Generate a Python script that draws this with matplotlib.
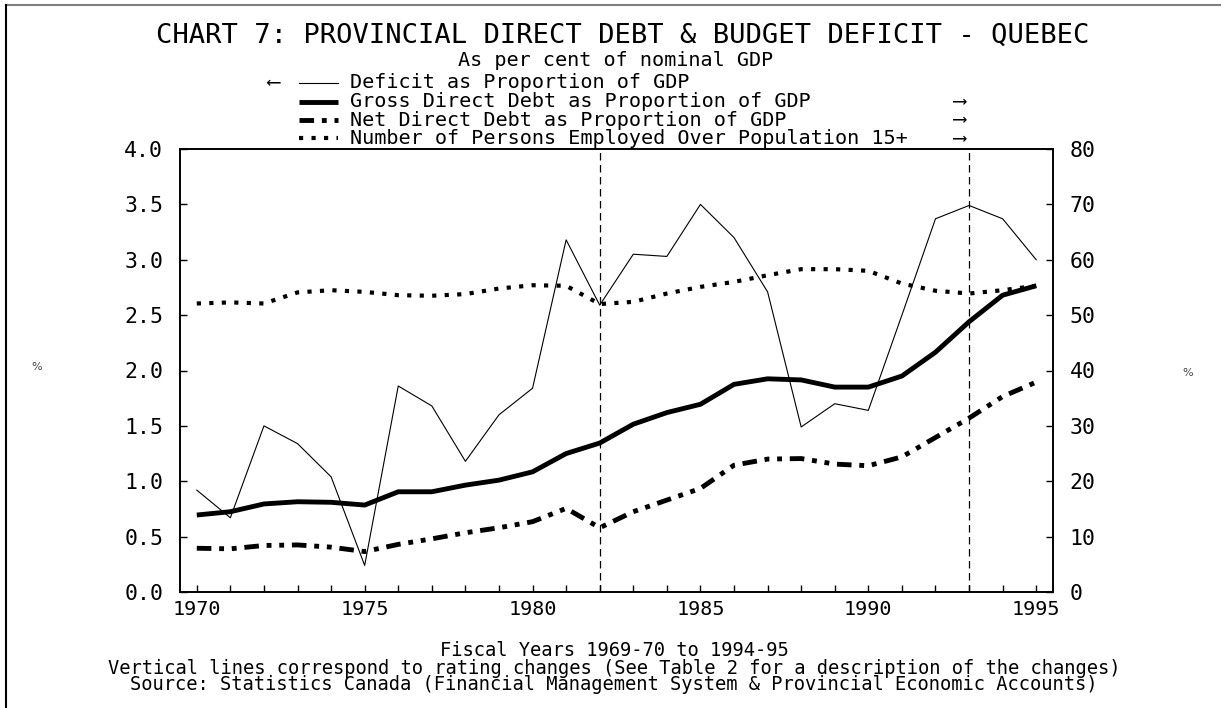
import matplotlib.pyplot as plt
from matplotlib.lines import Line2D
from matplotlib.ticker import MultipleLocator, FuncFormatter

# Data (fiscal years 1969-70 .. 1994-95, plotted at 1970..1995)
years = list(range(1970, 1996))
deficit = [0.92, 0.67, 1.50, 1.34, 1.04, 0.24, 1.86, 1.68, 1.18, 1.60, 1.84, 3.18, 2.59,
           3.05, 3.03, 3.50, 3.20, 2.71, 1.49, 1.70, 1.64, 2.50, 3.37, 3.49, 3.37, 3.00]
gross_debt = [13.9, 14.5, 15.9, 16.3, 16.2, 15.7, 18.1, 18.1, 19.3, 20.2, 21.7, 25.0, 26.9,
              30.3, 32.4, 33.9, 37.5, 38.5, 38.3, 37.0, 37.0, 39.0, 43.3, 48.8, 53.6, 55.3]
net_debt = [7.9, 7.8, 8.4, 8.5, 8.1, 7.3, 8.6, 9.6, 10.7, 11.6, 12.7, 15.1, 11.6,
            14.5, 16.6, 18.7, 22.9, 24.0, 24.1, 23.1, 22.8, 24.4, 27.9, 31.4, 35.3, 37.9]
employment = [52.1, 52.3, 52.1, 54.1, 54.5, 54.2, 53.6, 53.5, 53.8, 54.8, 55.4, 55.3, 52.0,
              52.4, 53.9, 55.1, 56.0, 57.2, 58.3, 58.3, 58.0, 55.7, 54.4, 53.9, 54.5, 55.3]
rating_changes = [1982, 1993]

labels = ['Deficit as Proportion of GDP',
          'Gross Direct Debt as Proportion of GDP',
          'Net Direct Debt as Proportion of GDP',
          'Number of Persons Employed Over Population 15+']
footer = ['Fiscal Years 1969-70 to 1994-95',
          'Vertical lines correspond to rating changes (See Table 2 for a description of the changes)',
          'Source: Statistics Canada (Financial Management System & Provincial Economic Accounts)']

MONO = ['DejaVu Sans Mono', 'DejaVu Sans']
W, H = 1221, 708

fig = plt.figure(figsize=(W / 100, H / 100), dpi=100)
ax = fig.add_axes([180 / W, 1 - 592 / H, 873 / W, 443 / H])
ax2 = ax.twinx()

net_dash = (3, 1.6, 1, 1.6, 1, 1.6)
emp_dash = (1, 2)

# left axis: deficit
ax.plot(years, deficit, color='black', lw=0.8)
for yr in rating_changes:
    ax.axvline(yr, color='black', lw=0.9, dashes=(6, 3.6))

# right axis: debt and employment
ax2.plot(years, gross_debt, color='black', lw=3.5, solid_capstyle='butt')
ax2.plot(years, net_debt, color='black', lw=3.5, dashes=net_dash, dash_capstyle='butt')
ax2.plot(years, employment, color='black', lw=3.0, dashes=emp_dash, dash_capstyle='butt')

ax.set_xlim(1969.5, 1995.5)
ax.set_ylim(0, 4)
ax2.set_ylim(0, 80)

ax.xaxis.set_major_locator(MultipleLocator(5))
ax.xaxis.set_minor_locator(MultipleLocator(1))
ax.yaxis.set_major_locator(MultipleLocator(0.5))
ax.yaxis.set_major_formatter(FuncFormatter(lambda v, p: f'{v:.1f}'))
ax2.yaxis.set_major_locator(MultipleLocator(10))

ax.tick_params(axis='x', which='both', direction='in', length=5, width=1, top=False, pad=6)
ax.tick_params(axis='y', direction='in', length=5, width=1, pad=12)
ax2.tick_params(axis='y', direction='in', length=5, width=1, pad=12)
for lab in ax.get_xticklabels():
    lab.set_family(MONO)
    lab.set_fontsize(14.5)
for lab in ax.get_yticklabels() + ax2.get_yticklabels():
    lab.set_family(MONO)
    lab.set_fontsize(15.5)
for a in (ax, ax2):
    for s in a.spines.values():
        s.set_linewidth(1.2)

# % labels
fig.text(37 / W, 1 - 367 / H, '%', fontsize=8, color='#444444', ha='center', va='center')
fig.text(1188 / W, 1 - 373 / H, '%', fontsize=8, color='#444444', ha='center', va='center')

# titles
fig.text(623 / W, 1 - 36 / H, 'CHART 7: PROVINCIAL DIRECT DEBT & BUDGET DEFICIT - QUEBEC',
         family=MONO, fontsize=19.5, ha='center', va='center')
fig.text(616 / W, 1 - 60 / H, 'As per cent of nominal GDP',
         family=MONO, fontsize=14.5, ha='center', va='center')

# hand-drawn legend like the original
rows = [83, 101.7, 120, 138.3]
styles = [dict(lw=0.8), dict(lw=3.5, solid_capstyle='butt'),
          dict(lw=3.5, dashes=net_dash, dash_capstyle='butt'),
          dict(lw=3.0, dashes=emp_dash, dash_capstyle='butt')]
for row, lab, st in zip(rows, labels, styles):
    yy = 1 - row / H
    fig.add_artist(Line2D([299 / W, 338 / W], [yy, yy], color='black', **st))
    fig.text(350 / W, yy, lab, family=MONO, fontsize=14.5, ha='left', va='center')
fig.text(274 / W, 1 - rows[0] / H, '\u27f5', family=MONO, fontsize=14, ha='center', va='center')
for row in rows[1:]:
    fig.text(960 / W, 1 - row / H, '\u27f6', family=MONO, fontsize=14, ha='center', va='center')

# footer
for row, txt in zip([651, 668, 685], footer):
    fig.text(614 / W, 1 - row / H, txt, family=MONO, fontsize=13.5, ha='center', va='center')

# page border (top and left)
fig.add_artist(Line2D([6 / W, 1], [1 - 5 / H, 1 - 5 / H], color='#808080', lw=1.5))
fig.add_artist(Line2D([6 / W, 6 / W], [0, 1 - 5 / H], color='black', lw=1.5))

fig.savefig('out.png', dpi=100)
